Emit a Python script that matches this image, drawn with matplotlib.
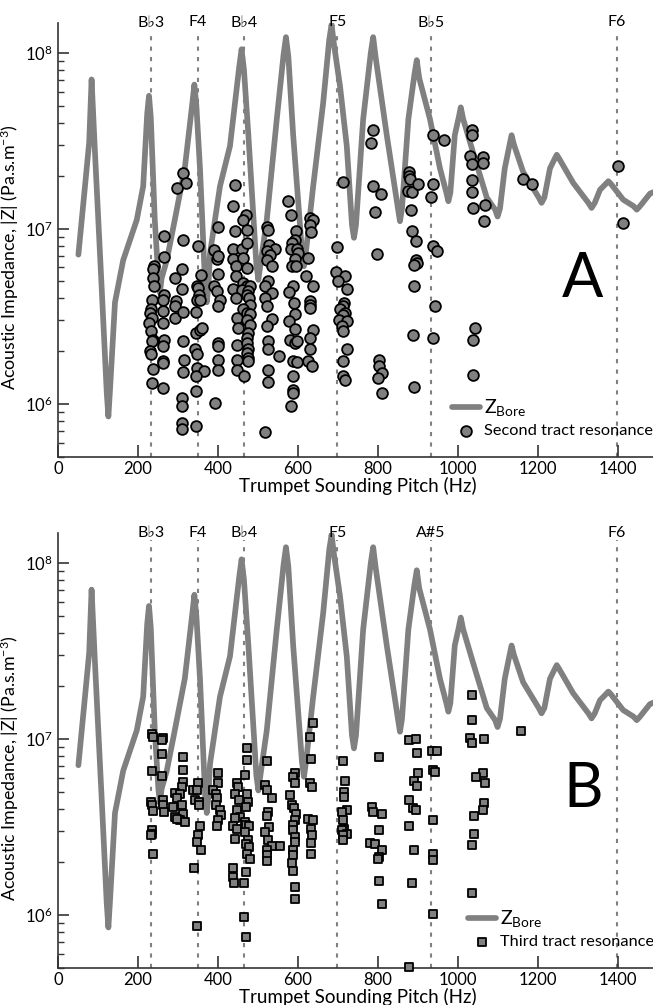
import matplotlib
matplotlib.use('Agg')
import matplotlib.pyplot as plt

plt.rcParams['font.family'] = ['Lato', 'DejaVu Sans']
plt.rcParams['mathtext.fontset'] = 'custom'
plt.rcParams['mathtext.rm'] = 'Lato'
plt.rcParams['mathtext.it'] = 'Lato:italic'
plt.rcParams['mathtext.bf'] = 'Lato:bold'

# input impedance of the trumpet bore
bore_freq = [51, 67.5, 78, 84, 92.5, 109, 122, 126, 130, 142.5, 163, 197, 213, 223, 227.5, 232,
             242, 251, 255, 259, 272, 292, 317, 336, 341, 346, 355, 368, 372, 376, 380, 405,
             430, 453, 459, 465, 476, 496, 501, 506, 522, 547, 564, 570, 576, 588, 610, 615,
             620, 638, 663, 678, 684, 690, 705, 722, 735, 740, 745, 763, 782, 788, 794, 822,
             850, 855, 860, 876, 891, 897, 903, 930, 955, 971, 976, 981, 992, 1002, 1007, 1013,
             1038, 1072, 1093, 1099, 1105, 1117, 1129, 1134, 1140, 1163, 1202, 1209, 1216, 1230,
             1242, 1247, 1253, 1288, 1326, 1334, 1342, 1355, 1370, 1376, 1382, 1413, 1439, 1447,
             1455, 1480, 1500]
bore_z = [7.1e6, 1.74e7, 3.1e7, 7.06e7, 2.7e7, 4.7e6, 1.15e6, 8.5e5, 1.2e6, 3.8e6, 6.6e6, 1.12e7,
          1.74e7, 4.5e7, 5.7e7, 4.3e7, 1.12e7, 5.2e6, 4.3e6, 5.2e6, 6.6e6, 1.12e7, 2.2e7, 5.2e7,
          6.6e7, 5.0e7, 2.2e7, 4.7e6, 3.8e6, 4.7e6, 7.2e6, 1.74e7, 2.95e7, 8.3e7, 1.05e8, 8.0e7,
          3.4e7, 6.2e6, 5.1e6, 6.2e6, 1.12e7, 4.2e7, 9.8e7, 1.23e8, 9.5e7, 3.4e7, 7.4e6, 6.1e6,
          7.4e6, 1.74e7, 5.2e7, 1.18e8, 1.45e8, 1.12e8, 6.5e7, 2.95e7, 1.05e7, 8.85e6, 1.05e7,
          4.2e7, 1.0e8, 1.23e8, 9.5e7, 3.4e7, 1.3e7, 1.1e7, 1.3e7, 4.2e7, 7.5e7, 9.1e7, 7.2e7,
          4.2e7, 2.2e7, 1.6e7, 1.43e7, 1.6e7, 3.4e7, 4.3e7, 4.9e7, 4.2e7, 2.7e7, 1.5e7, 1.28e7,
          1.17e7, 1.3e7, 2.2e7, 3.0e7, 3.4e7, 3.0e7, 2.1e7, 1.5e7, 1.4e7, 1.5e7, 2.2e7, 2.5e7,
          2.63e7, 2.5e7, 1.82e7, 1.4e7, 1.31e7, 1.4e7, 1.66e7, 1.8e7, 1.86e7, 1.8e7, 1.46e7,
          1.34e7, 1.28e7, 1.34e7, 1.58e7, 1.65e7]

note_freq = [233, 349, 466, 698, 932, 1397]
note_labels_a = ['B\u266d3', 'F4', 'B\u266d4', 'F5', 'B\u266d5', 'F6']
note_labels_b = ['B\u266d3', 'F4', 'B\u266d4', 'F5', 'A#5', 'F6']

# second vocal tract resonance (panel A)
second_freq = [241, 238, 237, 240, 234, 232, 230, 234, 228, 232, 238, 234, 230, 232, 237, 234,
               266, 266, 266, 263, 263, 262, 265, 262, 263, 262, 263,
               313, 320, 297, 313, 292, 309, 309, 295, 292, 292, 313, 313, 315, 313, 309, 309, 309, 309,
               351, 357, 347, 351, 353, 347, 355, 345, 345, 355, 359, 342, 347, 347, 365, 345, 345, 345,
               401, 390, 397, 401, 401, 390, 397, 405, 401, 401, 401, 401, 401, 392,
               442, 437, 470, 462, 442, 472, 437, 459, 472, 437, 463, 445, 472, 445, 463, 472, 480, 438,
               459, 476, 472, 478, 445, 480, 463, 472, 480, 447, 472, 480, 451, 476, 472, 447, 472, 476,
               472, 476, 447, 476, 447, 465,
               522, 526, 528, 542, 522, 530, 522, 534, 526, 517, 534, 517, 522, 534, 522, 526, 526, 553,
               526, 526, 517,
               576, 582, 595, 592, 584, 582, 597, 601, 592, 584, 595, 588, 578, 590, 592, 578, 592, 580,
               592, 597, 588, 597, 588, 588, 588, 582,
               630, 638, 630, 632, 626, 620, 638, 630, 630, 630, 637, 630, 630, 626, 634,
               712, 698, 695, 717, 701, 722, 715, 712, 705, 717, 713, 703, 722, 709, 713, 722, 713, 712, 717,
               787, 782, 787, 807, 792, 798, 803, 803, 809, 801, 809,
               878, 878, 880, 876, 884, 901, 882, 884, 895, 895, 898, 890, 890, 888, 890,
               937, 965, 938, 932, 937, 948, 942, 938,
               1034, 1034, 1030, 1034, 1062, 1063, 1034, 1034, 1038, 1067, 1065, 1042, 1038, 1038,
               1163, 1184, 1401, 1412]
second_z = [6.1e6, 5.85e6, 5.24e6, 4.7e6, 3.94e6, 3.46e6, 3.31e6, 3.1e6, 2.9e6, 2.6e6, 2.33e6, 2.28e6,
            2.0e6, 1.92e6, 1.59e6, 1.32e6,
            9.1e6, 6.9e6, 4.2e6, 3.94e6, 3.38e6, 2.9e6, 2.33e6, 2.14e6, 1.75e6, 1.72e6, 1.24e6,
            2.06e7, 1.81e7, 1.71e7, 8.6e6, 5.24e6, 5.85e6, 4.53e6, 3.86e6, 3.61e6, 3.1e6, 3.34e6, 2.3e6,
            1.78e6, 1.52e6, 1.08e6, 9.8e5, 7.8e5, 7.2e5,
            8.0e6, 5.47e6, 4.73e6, 4.6e6, 4.2e6, 3.94e6, 3.94e6, 3.34e6, 2.55e6, 2.66e6, 2.72e6, 2.05e6,
            1.92e6, 1.61e6, 1.54e6, 1.44e6, 1.18e6, 7.55e5,
            1.02e7, 7.5e6, 6.7e6, 7.0e6, 5.52e6, 4.7e6, 4.4e6, 3.94e6, 3.61e6, 2.23e6, 2.14e6, 1.79e6,
            1.56e6, 1.02e6,
            1.78e7, 1.34e7, 1.19e7, 1.12e7, 9.7e6, 9.8e6, 7.6e6, 7.66e6, 8.3e6, 6.7e6, 6.8e6, 6.15e6,
            5.97e6, 5.35e6, 4.9e6, 4.7e6, 4.7e6, 4.53e6, 4.45e6, 4.4e6, 4.2e6, 4.03e6, 4.03e6, 3.69e6,
            3.46e6, 3.31e6, 3.24e6, 3.1e6, 3.03e6, 2.84e6, 2.72e6, 2.55e6, 2.38e6, 2.18e6, 2.23e6, 2.06e6,
            1.96e6, 1.83e6, 1.78e6, 1.75e6, 1.56e6, 1.45e6,
            1.02e7, 9.8e6, 8.1e6, 7.66e6, 7.4e6, 7.1e6, 6.65e6, 6.1e6, 5.0e6, 4.7e6, 4.3e6, 4.03e6,
            3.61e6, 3.06e6, 2.78e6, 2.28e6, 2.06e6, 1.89e6, 1.56e6, 1.33e6, 6.9e5,
            1.43e7, 1.2e7, 9.7e6, 8.65e6, 8.3e6, 7.66e6, 7.66e6, 7.3e6, 6.7e6, 6.15e6, 6.1e6, 4.7e6,
            4.34e6, 3.78e6, 3.24e6, 2.97e6, 2.68e6, 2.33e6, 2.23e6, 2.28e6, 1.75e6, 1.73e6, 1.44e6,
            1.2e6, 1.15e6, 9.7e5,
            1.15e7, 1.12e7, 1.05e7, 9.5e6, 6.8e6, 5.35e6, 4.7e6, 3.86e6, 3.69e6, 3.53e6, 2.64e6, 2.38e6,
            2.06e6, 1.75e6, 1.64e6,
            1.85e7, 7.8e6, 5.64e6, 5.4e6, 5.0e6, 4.5e6, 3.78e6, 3.61e6, 3.46e6, 3.31e6, 3.2e6, 3.03e6,
            2.97e6, 2.78e6, 2.6e6, 2.06e6, 1.75e6, 1.45e6, 1.37e6,
            3.66e7, 3.05e7, 1.74e7, 1.58e7, 1.24e7, 7.2e6, 1.78e6, 1.64e6, 1.51e6, 1.41e6, 1.15e6,
            2.09e7, 2.0e7, 1.92e7, 1.63e7, 1.61e7, 1.8e7, 1.27e7, 9.7e6, 8.5e6, 6.65e6, 6.4e6, 6.2e6,
            4.7e6, 2.49e6, 1.25e6,
            3.39e7, 3.19e7, 1.8e7, 1.52e7, 7.9e6, 7.4e6, 3.61e6, 2.38e6,
            3.66e7, 3.43e7, 2.58e7, 2.32e7, 2.56e7, 2.35e7, 1.88e7, 1.61e7, 1.31e7, 1.36e7, 1.1e7,
            2.72e6, 2.31e6, 1.47e6,
            1.92e7, 1.8e7, 2.28e7, 1.07e7]

# third vocal tract resonance (panel B)
third_freq = [234, 237, 234, 232, 234, 237, 234, 234, 232, 237,
              263, 259, 259, 259, 263, 263, 265,
              313, 313, 312, 309, 292, 305, 297, 288, 309, 292, 312, 305, 317, 297,
              351, 338, 347, 342, 353, 353, 355, 351, 347, 357, 340, 347,
              401, 401, 388, 395, 398, 395, 405, 407, 401, 398,
              473, 472, 467, 447, 451, 442, 472, 453, 476, 447, 470, 455, 442, 467, 470, 438,
              478, 448, 467, 442, 476, 470, 478, 472, 480, 438, 438, 440, 465, 470, 465, 470,
              523, 517, 522, 534, 526, 522, 528, 517, 526, 534, 555, 523, 522, 522,
              580, 584, 592, 588, 592, 590, 595, 592, 588, 588, 592, 592, 588, 588, 584, 588, 592, 592,
              637, 630, 632, 630, 634, 626, 638, 632, 634, 632, 632,
              712, 717, 715, 715, 723, 709, 712, 715, 709, 722, 713, 712,
              803, 784, 787, 809, 803, 780, 792, 809, 803, 801, 803, 809,
              878, 895, 898, 901, 890, 897, 878, 888, 895, 878, 890, 884, 878,
              934, 948, 938, 942, 938, 938, 938, 938,
              1034, 1034, 1030, 1034, 1065, 1062, 1045, 1067, 1065, 1062, 1040, 1040, 1034, 1034, 1157]
third_z = [1.07e7, 1.03e7, 6.6e6, 4.4e6, 4.2e6, 3.9e6, 3.03e6, 2.9e6, 2.84e6, 2.23e6,
           1.02e7, 9.9e6, 8.2e6, 6.15e6, 4.49e6, 4.2e6, 3.85e6,
           7.93e6, 6.66e6, 5.72e6, 5.35e6, 4.94e6, 4.9e6, 4.6e6, 4.11e6, 4.2e6, 3.61e6, 3.74e6, 3.45e6,
           3.38e6, 3.53e6,
           5.59e6, 5.16e6, 5.12e6, 4.49e6, 4.4e6, 4.2e6, 3.21e6, 2.84e6, 2.6e6, 2.35e6, 1.85e6, 8.7e5,
           6.37e6, 5.59e6, 5.12e6, 4.9e6, 4.6e6, 4.2e6, 3.97e6, 3.69e6, 3.45e6, 3.19e6,
           8.86e6, 7.6e6, 6.23e6, 5.59e6, 5.35e6, 4.9e6, 4.86e6, 4.49e6, 4.4e6, 3.94e6, 4.11e6, 3.61e6,
           3.58e6, 3.38e6, 3.24e6, 3.21e6, 3.19e6, 3.1e6, 2.97e6, 2.72e6, 2.66e6, 2.54e6, 2.44e6, 2.21e6,
           2.09e6, 1.85e6, 1.64e6, 1.52e6, 1.52e6, 1.75e6, 9.7e5, 7.5e5,
           7.5e6, 5.47e6, 5.12e6, 4.6e6, 3.85e6, 3.64e6, 3.17e6, 2.97e6, 2.66e6, 2.46e6, 2.46e6, 2.33e6,
           2.18e6, 2.03e6,
           4.8e6, 4.2e6, 6.37e6, 6.05e6, 5.64e6, 4.03e6, 3.77e6, 3.45e6, 3.24e6, 3.03e6, 2.78e6, 2.6e6,
           2.33e6, 2.18e6, 1.97e6, 1.79e6, 1.45e6, 1.24e6,
           1.24e7, 1.03e7, 7.66e6, 5.59e6, 5.35e6, 3.53e6, 3.45e6, 3.1e6, 2.84e6, 2.57e6, 2.21e6,
           7.5e6, 5.79e6, 5.0e6, 4.7e6, 3.97e6, 3.85e6, 3.45e6, 3.1e6, 3.03e6, 2.9e6, 2.84e6, 2.66e6,
           7.93e6, 4.11e6, 3.85e6, 3.74e6, 3.06e6, 2.57e6, 2.52e6, 2.35e6, 2.15e6, 2.09e6, 1.56e6, 1.16e6,
           9.9e6, 1.0e7, 8.35e6, 6.37e6, 5.79e6, 5.4e6, 4.49e6, 4.03e6, 3.94e6, 3.19e6, 2.33e6, 1.52e6,
           5.05e5,
           8.5e6, 8.5e6, 6.7e6, 6.5e6, 3.45e6, 2.23e6, 2.05e6, 1.02e6,
           1.78e7, 1.28e7, 1.02e7, 9.5e6, 1.0e7, 6.37e6, 6.05e6, 5.64e6, 4.34e6, 3.97e6, 3.64e6, 2.88e6,
           2.49e6, 1.33e6, 1.11e7]

GREY = '#808080'
DARK = '#333333'


def draw_panel(ax, tract_f, tract_z, marker, size, tract_label, note_labels, letter, leg_x):
    for f, lab in zip(note_freq, note_labels):
        ax.axvline(f, ymin=0, ymax=0.984, color=GREY, lw=1.5, ls=(0, (2, 3)), zorder=1)
        ax.text(f, 0.992, lab, transform=ax.get_xaxis_transform(), ha='center', va='baseline',
                fontsize=11.5)
    ax.plot(bore_freq, bore_z, color=GREY, lw=4.1, solid_joinstyle='round',
            solid_capstyle='round', zorder=2, label=r'$\mathregular{Z_{Bore}}$')
    ax.scatter(tract_f, tract_z, marker=marker, s=size, facecolor=GREY, edgecolor='black',
               linewidths=1.3, zorder=3, clip_on=False, label=tract_label)
    ax.set_yscale('log')
    ax.set_xlim(0, 1500)
    ax.set_ylim(5e5, 1.48e8)
    ax.set_xticks([0, 200, 400, 600, 800, 1000, 1200, 1400])
    ax.spines['top'].set_visible(False)
    ax.spines['right'].set_visible(False)
    for s in ['left', 'bottom']:
        ax.spines[s].set_color(DARK)
        ax.spines[s].set_linewidth(1.2)
    ax.tick_params(which='both', direction='in', colors=DARK, labelcolor='black', labelsize=12)
    ax.tick_params(which='major', length=8, width=1.2)
    ax.tick_params(which='minor', length=4, width=1.0)
    ax.tick_params(axis='x', length=9, pad=3)
    ax.set_xlabel('Trumpet Sounding Pitch (Hz)', fontsize=13.5, labelpad=0)
    ax.set_ylabel(r'Acoustic Impedance, |Z| (Pa.s.m$^{-3}$)', fontsize=12.8)
    ax.yaxis.set_label_coords(-0.062, 0.46)
    ax.text(0.875, 0.41, letter, transform=ax.transAxes, ha='center', va='center', fontsize=44)
    leg = ax.legend(loc='upper left', bbox_to_anchor=(leg_x, 0.138), frameon=False, fontsize=11.8,
                    handlelength=1.7, handletextpad=0.25, labelspacing=0.35, borderpad=0,
                    borderaxespad=0, markerscale=1.0)
    leg.get_texts()[0].set_fontsize(14)


fig = plt.figure(figsize=(6.53, 10.05), dpi=100)
ax_a = fig.add_axes([0.0888, 0.5453, 0.9188, 0.4318])
ax_b = fig.add_axes([0.0888, 0.0368, 0.9188, 0.4328])

draw_panel(ax_a, second_freq, second_z, 'o', 60, 'Second tract resonance', note_labels_a, 'A', 0.657)
draw_panel(ax_b, third_freq, third_z, 's', 30, 'Third tract resonance', note_labels_b, 'B', 0.683)

fig.savefig('out.png', dpi=100)
